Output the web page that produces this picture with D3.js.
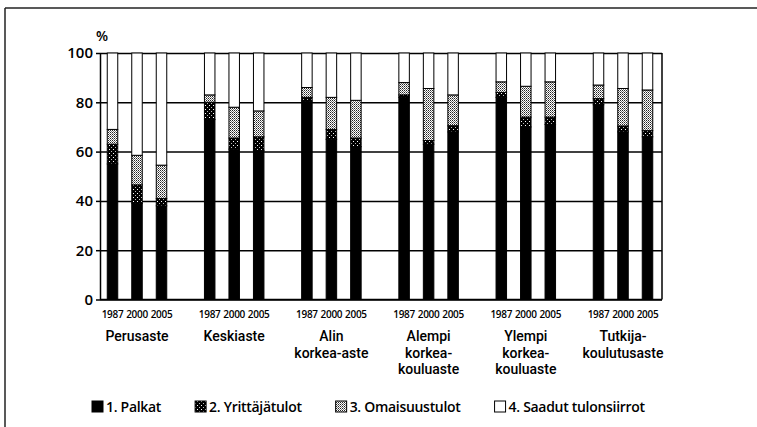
<!DOCTYPE html>
<html>
<head>
<meta charset="utf-8">
<script src="https://cdn.jsdelivr.net/npm/d3@7"></script>
<style>
  body { margin: 0; background: #fff; }
  svg { display: block; font-family: "Open Sans", sans-serif; }
</style>
</head>
<body>
<svg></svg>
<script>
// data (% shares, stacked to 100)
const groups = ["Perusaste", "Keskiaste", "Alin korkea-aste", "Alempi korkeakouluaste", "Ylempi korkeakouluaste", "Tutkijakoulutusaste"];
const groupLines = [["Perusaste"], ["Keskiaste"], ["Alin", "korkea-aste"], ["Alempi", "korkea-", "kouluaste"], ["Ylempi", "korkea-", "kouluaste"], ["Tutkija-", "koulutusaste"]];
const years = ["1987", "2000", "2005"];
const seriesNames = ["1. Palkat", "2. Yrittäjätulot", "3. Omaisuustulot", "4. Saadut tulonsiirrot"];

// one value per bar: group by group, years 1987, 2000, 2005
const palkat        = [55, 39, 38,   73, 61, 60.5,  80.5, 65, 62,    82, 63, 68,     82, 70, 71,     79, 68, 66];
const yrittajatulot = [8, 7.5, 3,    7, 4.5, 5.5,   1.5, 4, 3.5,    1, 1.5, 2.5,    2, 4, 3,        2.5, 2.4, 2.5];
const omaisuustulot = [6, 12, 13.5,  3, 12.5, 10.5, 4, 13, 15.3,    5, 21.1, 12.5,  4.3, 12.5, 14.3, 5.5, 15.2, 16.5];
const tulonsiirrot  = [31, 41.5, 45.5, 17, 22, 23.5, 14, 18, 19.2,  12, 14.4, 17,   11.7, 13.5, 11.7, 13, 14.4, 15];

const yTicks = [0, 20, 40, 60, 80, 100];

const width = 757;
const height = 427;
const plotLeft = 100, plotRight = 662, plotTop = 53, plotBottom = 299.5;
const barW = 10.5;

const svg = d3.select("svg").attr("width", width).attr("height", height);

// patterns for the two hatched series
const defs = svg.append("defs");
const pYrit = defs.append("pattern").attr("id", "pat-yrit")
  .attr("width", 4).attr("height", 4).attr("patternUnits", "userSpaceOnUse");
pYrit.append("rect").attr("width", 4).attr("height", 4).attr("fill", "#000");
pYrit.append("rect").attr("x", 1).attr("y", 1).attr("width", 1).attr("height", 1).attr("fill", "#fff");
pYrit.append("rect").attr("x", 3).attr("y", 3).attr("width", 1).attr("height", 1).attr("fill", "#bbb");

const pOmai = defs.append("pattern").attr("id", "pat-omai")
  .attr("width", 2).attr("height", 2).attr("patternUnits", "userSpaceOnUse");
pOmai.append("rect").attr("width", 2).attr("height", 2).attr("fill", "#fff");
pOmai.append("rect").attr("width", 1).attr("height", 1).attr("fill", "#222");
pOmai.append("rect").attr("x", 1).attr("y", 1).attr("width", 1).attr("height", 1).attr("fill", "#777");

const fills = ["#000", "url(#pat-yrit)", "url(#pat-omai)", "#fff"];

// outer frame (top + left edges visible in the scan)
svg.append("line").attr("x1", 5).attr("x2", width).attr("y1", 8).attr("y2", 8)
  .attr("stroke", "#222").attr("stroke-width", 1.5);
svg.append("line").attr("x1", 5).attr("x2", 5).attr("y1", 8).attr("y2", height)
  .attr("stroke", "#222").attr("stroke-width", 1.5);

// scales
const yScale = d3.scaleLinear().domain([0, 100]).range([plotBottom, plotTop]);
const xGroup = d3.scalePoint().domain(groups).range([137, 623]);
const xYear = d3.scalePoint().domain(years).range([-24.5, 24.5]);

// gridlines
const grid = svg.append("g")
  .attr("transform", "translate(" + plotLeft + ",0)")
  .call(d3.axisLeft(yScale).tickValues(yTicks).tickSize(-(plotRight - plotLeft)).tickFormat(""));
grid.select(".domain").remove();
grid.selectAll("line").attr("stroke", "#000").attr("stroke-width", 1.5);

// stacked bars
const rows = [];
groups.forEach((g, gi) => {
  years.forEach((yr, yi) => {
    const i = gi * 3 + yi;
    rows.push({
      group: g, year: yr,
      [seriesNames[0]]: palkat[i],
      [seriesNames[1]]: yrittajatulot[i],
      [seriesNames[2]]: omaisuustulot[i],
      [seriesNames[3]]: tulonsiirrot[i]
    });
  });
});
const stacked = d3.stack().keys(seriesNames)(rows);

svg.append("g").selectAll("g")
  .data(stacked)
  .enter()
  .append("g")
  .attr("fill", (d, i) => fills[i])
  .selectAll("rect")
  .data(d => d)
  .enter()
  .append("rect")
  .attr("x", d => xGroup(d.data.group) + xYear(d.data.year) - barW / 2)
  .attr("y", d => yScale(d[1]))
  .attr("width", barW)
  .attr("height", d => yScale(d[0]) - yScale(d[1]))
  .attr("stroke", "#000")
  .attr("stroke-width", 1);

// axes
const yAxis = svg.append("g")
  .attr("transform", "translate(" + plotLeft + ",0)")
  .call(d3.axisLeft(yScale).tickValues(yTicks).tickSize(4).tickPadding(3).tickSizeOuter(0));
yAxis.select(".domain").attr("stroke", "#000").attr("stroke-width", 1.5);
yAxis.selectAll("line").attr("stroke", "#000").attr("stroke-width", 1.5);
yAxis.selectAll("text").attr("font-size", 15).attr("font-weight", 600).attr("fill", "#000")
  .attr("font-family", "'Open Sans', sans-serif");

svg.append("line").attr("x1", plotLeft).attr("x2", plotRight).attr("y1", plotBottom).attr("y2", plotBottom)
  .attr("stroke", "#000").attr("stroke-width", 1.5);
svg.append("line").attr("x1", plotRight).attr("x2", plotRight).attr("y1", plotTop).attr("y2", plotBottom)
  .attr("stroke", "#000").attr("stroke-width", 1.5);

svg.append("text").attr("x", 96).attr("y", 41).attr("font-size", 14).attr("font-weight", 600)
  .text("%");

// year labels
svg.append("g").selectAll("text")
  .data(rows)
  .enter()
  .append("text")
  .attr("x", d => xGroup(d.group) + xYear(d.year))
  .attr("y", 318)
  .attr("text-anchor", "middle")
  .attr("font-size", 10)
  .attr("font-weight", 600)
  .attr("letter-spacing", -0.3)
  .text(d => d.year);

// category labels, one text per line
const catLines = [];
groups.forEach((g, gi) => {
  groupLines[gi].forEach((line, li) => catLines.push({ group: g, line: line, row: li }));
});
svg.append("g").selectAll("text")
  .data(catLines)
  .enter()
  .append("text")
  .attr("x", d => xGroup(d.group))
  .attr("y", d => 341 + d.row * 16.5)
  .attr("text-anchor", "middle")
  .attr("font-family", "Roboto, sans-serif")
  .attr("font-size", 14)
  .attr("font-weight", 500)
  .text(d => d.line);

// legend
const legend = svg.append("g");
let lx = 92;
seriesNames.forEach((name, i) => {
  legend.append("rect").attr("x", lx).attr("y", 401).attr("width", 11).attr("height", 11)
    .attr("fill", fills[i]).attr("stroke", "#000").attr("stroke-width", 1);
  const t = legend.append("text").attr("x", lx + 14).attr("y", 412)
    .attr("font-size", 14).attr("font-weight", 600).attr("letter-spacing", -0.3)
    .text(name);
  lx += 14 + t.node().getComputedTextLength() + 34;
});
</script>
</body>
</html>
